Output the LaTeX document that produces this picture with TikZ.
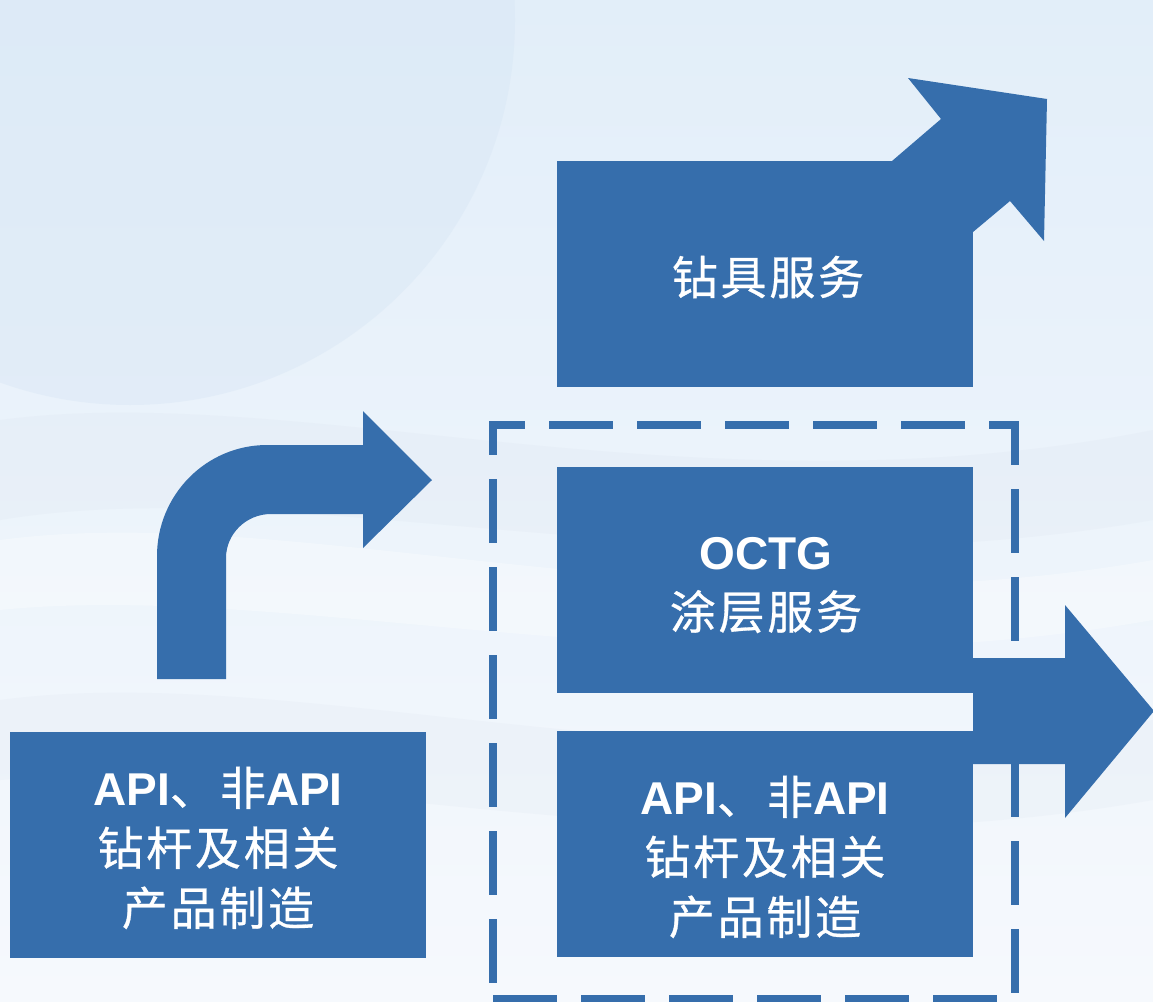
\documentclass[tikz,border=0pt]{standalone}
\usepackage{fontspec}
\setmainfont{Liberation Sans}
\newfontfamily\cjk[LetterSpace=6,FakeBold=0.6]{Noto Sans CJK SC}
\definecolor{boxblue}{HTML}{366EAC}
\definecolor{bgtop}{HTML}{E2EEF9}
\definecolor{bgbot}{HTML}{F6F9FD}
\definecolor{bgcirc}{HTML}{D6E5F4}
\definecolor{bgwave}{HTML}{DCE3EE}
\begin{document}
\begin{tikzpicture}[x=1pt,y=-1pt,
  box/.style={fill=boxblue, draw=none, minimum width=416pt, minimum height=226pt, inner sep=0pt, anchor=north west},
  lbl/.style={text=white, align=center, font=\fontsize{46}{60}\selectfont, inner sep=0pt},
  dashline/.style={draw=boxblue, line width=8pt},
  blockarrow/.style={fill=boxblue, draw=none}]
\useasboundingbox (0,0) rectangle (1153,1001);
% background
\shade[top color=bgtop, bottom color=bgbot] (0,0) rectangle (1153,1001);
\fill[bgcirc, opacity=0.4] (130,20) circle[radius=385];
\fill[bgwave, opacity=0.22] (0,420) .. controls (300,380) and (700,520) .. (1153,430) -- (1153,520) .. controls (700,600) and (300,470) .. (0,520) -- cycle;
\fill[bgwave, opacity=0.2] (0,700) .. controls (300,660) and (700,800) .. (1153,720) -- (1153,800) .. controls (700,880) and (300,760) .. (0,780) -- cycle;
\fill[white, opacity=0.3] (0,540) .. controls (300,500) and (700,640) .. (1153,560) -- (1153,620) .. controls (700,700) and (300,580) .. (0,610) -- cycle;
% dashed frame (each side)
\coordinate (dtl) at (489,425);
\coordinate (dtr) at (1019,425);
\draw[dashline, dash pattern=on 64pt off 24pt, dash phase=28pt] (dtl) -- (dtr);
\coordinate (drt) at (1015,421);
\coordinate (drb) at (1015,1005);
\draw[dashline, dash pattern=on 64pt off 24pt, dash phase=20pt] (drt) -- (drb);
\coordinate (dlt) at (493,421);
\coordinate (dlb) at (493,1005);
\draw[dashline, dash pattern=on 64pt off 24pt, dash phase=30pt] (dlt) -- (dlb);
\coordinate (dbl) at (493,999);
\coordinate (dbr) at (1019,999);
\draw[dashline, dash pattern=on 64pt off 24pt] (dbl) -- (dbr);
% boxes
\node[box] (drill) at (557,161) {};
\node[box] (octg) at (557,467) {};
\node[box] (pipeR) at (557,731) {};
\node[box] (pipeL) at (10,732) {};
% diagonal arrow out of top box
\fill[blockarrow] (892,161) -- (941,119) -- (908,78) -- (1047,99) -- (1044,241) -- (1010,201) -- (973,232) -- (973,161) -- cycle;
% bent arrow
\fill[blockarrow] (157,679) -- (157,556) .. controls (157,495) and (206,445) .. (267,445) -- (363,445) -- (363,411) -- (432,480) -- (363,548) -- (363,514) -- (271,514) .. controls (246,514) and (226,534) .. (226,558) -- (226,679) -- cycle;
% right arrow
\fill[blockarrow] (973,658) -- (1065,658) -- (1065,605) -- (1154,711) -- (1065,818) -- (1065,764) -- (973,764) -- cycle;
% labels
\node[lbl] (drilltxt) at (768,277) {\cjk 钻具服务};
\node[lbl] (octgtxt) at (766,585) {\bfseries OCTG\\\cjk 涂层服务};
\node[lbl] (pipeRtxt) at (765,857) {\bfseries API{\mdseries\cjk 、\hspace{4pt}非}API\\\cjk 钻杆及相关\\\cjk 产品制造};
\node[lbl] (pipeLtxt) at (218,848) {\bfseries API{\mdseries\cjk 、\hspace{4pt}非}API\\\cjk 钻杆及相关\\\cjk 产品制造};
\end{tikzpicture}
\end{document}
